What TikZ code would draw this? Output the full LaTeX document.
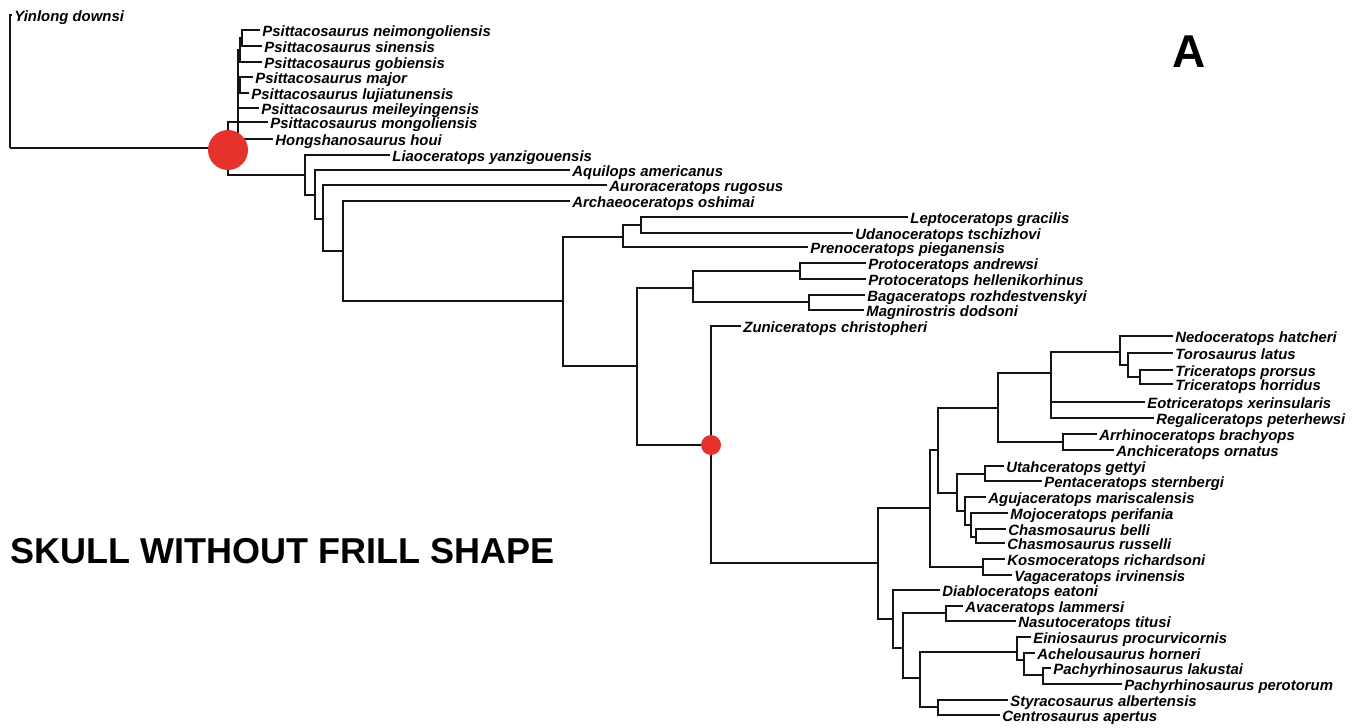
\documentclass[tikz,border=0pt]{standalone}
\usepackage{fontspec}
\setmainfont{Liberation Sans}
\usepackage{tikz}
\definecolor{cladered}{RGB}{230,50,45}
\tikzset{
  taxon/.style={
    anchor=west, inner sep=1pt, text height=1.4ex, text depth=0.2ex,
    font=\fontsize{7.45}{8}\selectfont\bfseries\itshape, text=black
  },
  branch/.style={
    line width=1.35pt, color=black!92
  },
  bigdot/.style={
    circle, fill=cladered, minimum size=20pt, inner sep=0pt
  },
  smalldot/.style={
    circle, fill=cladered, minimum size=10pt, inner sep=0pt
  }
}

\begin{document}
\begin{tikzpicture}[x=0.5pt, y=-0.5pt]
\useasboundingbox (0,0) rectangle (1367,728);

% Inner nodes of the tree
\coordinate (root) at (10,148);
\coordinate (nA) at (228,148);
\coordinate (psit) at (238,140);
\coordinate (psitB) at (240,50);
\coordinate (psitA) at (242,38);
\coordinate (psitC) at (240,85);
\coordinate (neo1) at (305,175);
\coordinate (neo2) at (315,195);
\coordinate (neo3) at (323,219);
\coordinate (neo4) at (343,251);
\coordinate (neo5) at (563,301);
\coordinate (lept1) at (623,237);
\coordinate (lept2) at (641,225);
\coordinate (coro) at (637,366);
\coordinate (proto) at (693,288);
\coordinate (proto1) at (800,271);
\coordinate (proto2) at (809,302);
\coordinate (cera) at (711,445);
\coordinate (cerd) at (878,563);
\coordinate (chas1) at (930,508);
\coordinate (chas2) at (938,450);
\coordinate (chas3) at (998,408);
\coordinate (tric1) at (1051,373);
\coordinate (tric2) at (1120,352);
\coordinate (tric3) at (1128,365);
\coordinate (tric4) at (1140,377);
\coordinate (arrh) at (1063,442);
\coordinate (chas4) at (957,493);
\coordinate (utah1) at (985,474);
\coordinate (chas5) at (965,511);
\coordinate (chas6) at (971,525);
\coordinate (chas7) at (976,537);
\coordinate (kosm) at (983,567);
\coordinate (cent1) at (893,619);
\coordinate (cent2) at (903,648);
\coordinate (cent3) at (946,613);
\coordinate (cent4) at (920,678);
\coordinate (pach1) at (1017,652);
\coordinate (pach2) at (1024,660);
\coordinate (pach3) at (1043,675);
\coordinate (styr1) at (938,707);

% Taxa (tips)
\node[taxon] (yinlong) at (12,15) {Yinlong downsi};
\node[taxon] (psNei) at (260,30) {Psittacosaurus neimongoliensis};
\node[taxon] (psSin) at (262,46) {Psittacosaurus sinensis};
\node[taxon] (psGob) at (262,62) {Psittacosaurus gobiensis};
\node[taxon] (psMaj) at (253,77) {Psittacosaurus major};
\node[taxon] (psLuj) at (249,93) {Psittacosaurus lujiatunensis};
\node[taxon] (psMei) at (259,108) {Psittacosaurus meileyingensis};
\node[taxon] (psMon) at (268,122) {Psittacosaurus mongoliensis};
\node[taxon] (hongsh) at (273,139) {Hongshanosaurus houi};
\node[taxon] (liaoc) at (390,155) {Liaoceratops yanzigouensis};
\node[taxon] (aquil) at (570,170) {Aquilops americanus};
\node[taxon] (auror) at (607,185) {Auroraceratops rugosus};
\node[taxon] (archae) at (570,201) {Archaeoceratops oshimai};
\node[taxon] (leptoc) at (908,217) {Leptoceratops gracilis};
\node[taxon] (udano) at (853,233) {Udanoceratops tschizhovi};
\node[taxon] (prenoc) at (808,247) {Prenoceratops pieganensis};
\node[taxon] (protA) at (866,263) {Protoceratops andrewsi};
\node[taxon] (protH) at (866,279) {Protoceratops hellenikorhinus};
\node[taxon] (bagac) at (865,295) {Bagaceratops rozhdestvenskyi};
\node[taxon] (magni) at (864,310) {Magnirostris dodsoni};
\node[taxon] (zunic) at (741,326) {Zuniceratops christopheri};
\node[taxon] (nedoc) at (1173,336) {Nedoceratops hatcheri};
\node[taxon] (toros) at (1173,353) {Torosaurus latus};
\node[taxon] (tricP) at (1173,370) {Triceratops prorsus};
\node[taxon] (tricH) at (1173,384) {Triceratops horridus};
\node[taxon] (eotric) at (1145,402) {Eotriceratops xerinsularis};
\node[taxon] (regal) at (1154,418) {Regaliceratops peterhewsi};
\node[taxon] (arrhin) at (1097,434) {Arrhinoceratops brachyops};
\node[taxon] (anchic) at (1114,450) {Anchiceratops ornatus};
\node[taxon] (utahc) at (1004,466) {Utahceratops gettyi};
\node[taxon] (pentac) at (1042,481) {Pentaceratops sternbergi};
\node[taxon] (agujac) at (986,497) {Agujaceratops mariscalensis};
\node[taxon] (mojoc) at (1008,513) {Mojoceratops perifania};
\node[taxon] (chasB) at (1006,529) {Chasmosaurus belli};
\node[taxon] (chasR) at (1005,543) {Chasmosaurus russelli};
\node[taxon] (kosmoc) at (1005,559) {Kosmoceratops richardsoni};
\node[taxon] (vagac) at (1012,575) {Vagaceratops irvinensis};
\node[taxon] (diablo) at (940,590) {Diabloceratops eatoni};
\node[taxon] (avac) at (963,606) {Avaceratops lammersi};
\node[taxon] (nasuto) at (1016,621) {Nasutoceratops titusi};
\node[taxon] (einio) at (1031,637) {Einiosaurus procurvicornis};
\node[taxon] (achel) at (1035,653) {Achelousaurus horneri};
\node[taxon] (pachL) at (1051,668) {Pachyrhinosaurus lakustai};
\node[taxon] (pachP) at (1122,684) {Pachyrhinosaurus perotorum};
\node[taxon] (styrac) at (1008,700) {Styracosaurus albertensis};
\node[taxon] (centro) at (1000,715) {Centrosaurus apertus};

% Branches, parent to child
\foreach \p/\c in {root/yinlong, root/nA, nA/psMon, nA/psit, nA/neo1,
  psit/psitB, psit/psitC, psit/psMei, psit/hongsh,
  psitB/psitA, psitB/psGob, psitA/psNei, psitA/psSin,
  psitC/psMaj, psitC/psLuj} {
  \draw[branch] (\p) |- (\c);
}
\foreach \p/\c in {neo1/liaoc, neo1/neo2, neo2/aquil, neo2/neo3,
  neo3/auror, neo3/neo4, neo4/archae, neo4/neo5,
  neo5/lept1, neo5/coro, lept1/lept2, lept1/prenoc, lept2/leptoc, lept2/udano,
  coro/proto, coro/cera, proto/proto1, proto/proto2,
  proto1/protA, proto1/protH, proto2/bagac, proto2/magni,
  cera/zunic, cera/cerd, cerd/chas1, cerd/cent1} {
  \draw[branch] (\p) |- (\c);
}
\foreach \p/\c in {chas1/chas2, chas1/kosm, chas2/chas3, chas2/chas4,
  chas3/tric1, chas3/arrh, tric1/tric2, tric1/eotric, tric1/regal,
  tric2/nedoc, tric2/tric3, tric3/toros, tric3/tric4,
  tric4/tricP, tric4/tricH, arrh/arrhin, arrh/anchic,
  chas4/utah1, chas4/chas5, utah1/utahc, utah1/pentac,
  chas5/agujac, chas5/chas6, chas6/mojoc, chas6/chas7,
  chas7/chasB, chas7/chasR, kosm/kosmoc, kosm/vagac} {
  \draw[branch] (\p) |- (\c);
}
\foreach \p/\c in {cent1/diablo, cent1/cent2, cent2/cent3, cent2/cent4,
  cent3/avac, cent3/nasuto, cent4/pach1, cent4/styr1,
  pach1/einio, pach1/pach2, pach2/achel, pach2/pach3,
  pach3/pachL, pach3/pachP, styr1/styrac, styr1/centro} {
  \draw[branch] (\p) |- (\c);
}

% Marked nodes
\node[bigdot] (dotA) at (228,150) {};
\node[smalldot] (dotB) at (cera) {};

% Labels
\node[anchor=base west, inner sep=0pt, font=\fontsize{18}{20}\selectfont\bfseries] (title) at (10,563) {SKULL WITHOUT FRILL SHAPE};
\node[inner sep=0pt, font=\fontsize{23}{25}\selectfont\bfseries] (panel) at (1189,52) {A};

\end{tikzpicture}
\end{document}
